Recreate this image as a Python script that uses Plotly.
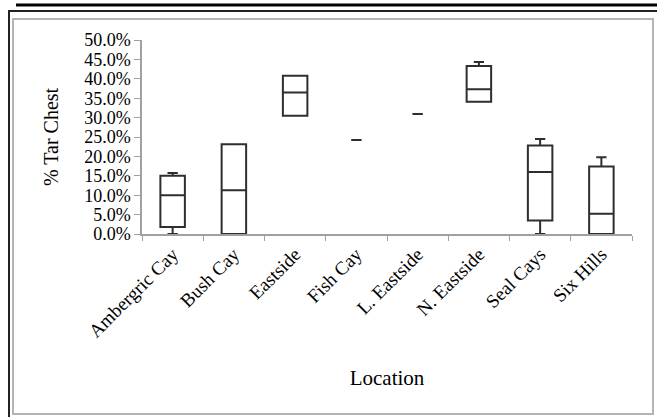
import plotly.graph_objects as go

# ---- data (values in %) ----
locations = ["Ambergric Cay", "Bush Cay", "Eastside", "Fish Cay",
             "L. Eastside", "N. Eastside", "Seal Cays", "Six Hills"]
minimum = [0.0, 0.0, 30.5, 24.2, 30.9, 34.1, 0.0, 0.0]
quart1 = [1.8, 0.0, 30.5, 24.2, 30.9, 34.1, 3.5, 0.0]
median = [10.0, 11.3, 36.5, 24.2, 30.9, 37.3, 16.0, 5.2]
quart3 = [15.0, 23.1, 40.8, 24.2, 30.9, 43.3, 22.8, 17.4]
maximum = [15.7, 23.1, 40.8, 24.2, 30.9, 44.3, 24.5, 19.8]

W, H = 657, 417
L, R, T, B = 142, 25, 40, 183
PW, PH = W - L - R, H - T - B

def px(x):
    return (x - L) / PW

def py(y):
    return (H - B - y) / PH

FONT = "Liberation Serif"
BOXC = "#2e2e2e"
AXC = "#a0a0a0"

fig = go.Figure()
for i, loc in enumerate(locations):
    single = quart1[i] == quart3[i] and minimum[i] == maximum[i]
    fig.add_trace(go.Box(
        x=[loc], q1=[quart1[i]], median=[median[i]], q3=[quart3[i]],
        lowerfence=[minimum[i]], upperfence=[maximum[i]],
        width=0.17 if single else 0.4,
        whiskerwidth=0.42,
        fillcolor="white",
        line=dict(color=BOXC, width=2),
        showlegend=False, hoverinfo="skip",
    ))

shapes = [
    dict(type="line", xref="paper", yref="paper", x0=px(16), x1=px(657), y0=py(5), y1=py(5),
         line=dict(color="black", width=3)),
    dict(type="line", xref="paper", yref="paper", x0=px(8), x1=px(657), y0=py(11), y1=py(11),
         line=dict(color="#222222", width=2)),
    dict(type="line", xref="paper", yref="paper", x0=px(9), x1=px(9), y0=py(11), y1=py(417),
         line=dict(color="#222222", width=2)),
    dict(type="rect", xref="paper", yref="paper", x0=px(13), x1=px(653), y0=py(19), y1=py(414),
         line=dict(color="#b4b4b4", width=2), fillcolor="rgba(0,0,0,0)"),
]

fig.update_layout(
    width=W, height=H,
    margin=dict(l=L, r=R, t=T, b=B),
    paper_bgcolor="white", plot_bgcolor="white",
    boxmode="overlay",
    font=dict(family=FONT, size=19, color="black"),
    shapes=shapes,
    xaxis=dict(
        type="category", categoryorder="array", categoryarray=locations,
        range=[-0.5, len(locations) - 0.5],
        tickson="boundaries", ticks="outside", ticklen=5, tickcolor=AXC,
        showline=True, linecolor=AXC, linewidth=1.5, showgrid=False,
        tickangle=-45, tickfont=dict(family=FONT, size=19),
        title=dict(text="Location", font=dict(family=FONT, size=21), standoff=30),
        fixedrange=True,
    ),
    yaxis=dict(
        range=[0, 50], dtick=5, tickformat=".1f", ticksuffix="%",
        ticks="outside", ticklen=6, tickcolor=AXC,
        showline=True, linecolor=AXC, linewidth=1.5, showgrid=False, zeroline=False,
        tickfont=dict(family=FONT, size=18),
        title=dict(text="% Tar Chest", font=dict(family=FONT, size=20), standoff=20),
        fixedrange=True,
    ),
)

fig.write_html("out.html")
